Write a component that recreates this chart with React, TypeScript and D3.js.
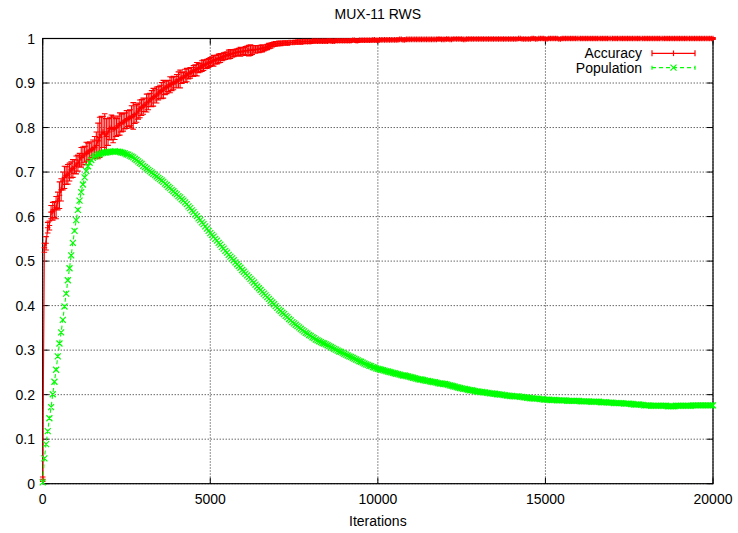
import React from "react";
import * as d3 from "d3";

const W = 738;
const H = 533;

const title = "MUX-11 RWS";
const xLabel = "Iterations";
const seriesNames = ["Accuracy", "Population"];

// one sample every 50 iterations
const iterations: number[] = d3.range(0, 20001, 50);

const accuracy: number[] = [
  0.01, 0.53, 0.54, 0.575, 0.58, 0.61, 0.612, 0.616, 0.62, 0.635,
  0.648, 0.66, 0.68, 0.688, 0.692, 0.695, 0.70, 0.705, 0.708, 0.712,
  0.716, 0.72, 0.727, 0.733, 0.736, 0.74, 0.742, 0.745, 0.748, 0.75,
  0.752, 0.755, 0.760, 0.770, 0.778, 0.785, 0.790, 0.786, 0.780, 0.790,
  0.798, 0.800, 0.796, 0.798, 0.800, 0.804, 0.808, 0.810, 0.812, 0.815,
  0.818, 0.820, 0.822, 0.824, 0.826, 0.829, 0.832, 0.837, 0.842, 0.845,
  0.848, 0.851, 0.855, 0.858, 0.862, 0.865, 0.868, 0.870, 0.873, 0.877,
  0.880, 0.883, 0.886, 0.889, 0.891, 0.893, 0.896, 0.898, 0.900, 0.902,
  0.904, 0.907, 0.909, 0.911, 0.913, 0.916, 0.918, 0.921, 0.923, 0.925,
  0.927, 0.929, 0.931, 0.933, 0.935, 0.938, 0.940, 0.942, 0.943, 0.945,
  0.947, 0.949, 0.950, 0.952, 0.953, 0.955, 0.956, 0.958, 0.960, 0.961,
  0.962, 0.964, 0.965, 0.966, 0.967, 0.968, 0.969, 0.970, 0.970, 0.971,
  0.972, 0.972, 0.973, 0.973, 0.974, 0.974, 0.975, 0.975, 0.976, 0.976,
  0.977, 0.978, 0.979, 0.980, 0.981, 0.983, 0.984, 0.986, 0.987, 0.988,
  0.988, 0.989, 0.989, 0.990, 0.990, 0.990, 0.990, 0.991, 0.991, 0.991,
  0.991, 0.992, 0.992, 0.992, 0.992, 0.993, 0.993, 0.993, 0.993, 0.993,
  0.993, 0.994, 0.994, 0.994, 0.994, 0.994, 0.994, 0.994, 0.994, 0.994,
  0.994, 0.995, 0.995, 0.994, 0.994, 0.995, 0.995, 0.995, 0.995, 0.995,
  0.995, 0.995, 0.995, 0.995, 0.995, 0.996, 0.996, 0.995, 0.995, 0.996,
  0.996, 0.996, 0.996, 0.996, 0.996, 0.996, 0.996, 0.997, 0.997, 0.996,
  0.996, 0.997, 0.997, 0.997, 0.997, 0.997, 0.997, 0.997, 0.997, 0.997,
  0.997, 0.997, 0.997, 0.998, 0.998, 0.997, 0.997, 0.998, 0.998, 0.998,
  0.998, 0.998, 0.998, 0.998, 0.998, 0.998, 0.998, 0.998, 0.998, 0.998,
  0.998, 0.998, 0.998, 0.998, 0.998, 0.998, 0.999, 0.999, 0.998, 0.998,
  0.998, 0.999, 0.999, 0.998, 0.998, 0.999, 0.999, 0.999, 0.999, 0.999,
  0.999, 0.998, 0.998, 0.999, 0.999, 0.999, 0.999, 0.999, 0.999, 0.999,
  0.999, 0.999, 0.999, 0.999, 0.999, 0.999, 0.999, 0.999, 0.999, 0.999,
  0.999, 0.999, 0.999, 0.999, 0.999, 0.999, 0.999, 0.999, 0.999, 0.999,
  0.999, 0.999, 0.999, 0.999, 1.0, 1.0, 0.999, 0.999, 0.999, 0.999,
  0.999, 0.999, 1.0, 1.0, 0.999, 0.999, 1.0, 1.0, 1.0, 1.0,
  0.999, 0.999, 1.0, 1.0, 1.0, 1.0, 1.0, 1.0, 0.999, 0.999,
  1.0, 1.0, 1.0, 1.0, 1.0, 1.0, 1.0, 1.0, 1.0, 1.0,
  1.0, 1.0, 1.0, 1.0, 1.0, 1.0, 1.0, 1.0, 1.0, 1.0,
  1.0, 1.0, 1.0, 1.0, 1.0, 1.0, 1.0, 1.0, 1.0, 1.0,
  1.0, 1.0, 1.0, 1.0, 1.0, 1.0, 1.0, 1.0, 1.0, 1.0,
  1.0, 1.0, 1.0, 1.0, 1.0, 1.0, 1.0, 1.0, 1.0, 1.0,
  1.0, 1.0, 1.0, 1.0, 1.0, 1.0, 1.0, 1.0, 1.0, 1.0,
  1.0, 1.0, 1.0, 1.0, 1.0, 1.0, 1.0, 1.0, 1.0, 1.0,
  1.0, 1.0, 1.0, 1.0, 1.0, 1.0, 1.0, 1.0, 1.0, 1.0,
  1.0, 1.0, 1.0, 1.0, 1.0, 1.0, 1.0, 1.0, 1.0, 1.0,
  1.0,
];

const accuracyErr: number[] = [
  0.005, 0.01, 0.015, 0.012, 0.01, 0.015, 0.02, 0.018, 0.025, 0.02,
  0.03, 0.025, 0.02, 0.025, 0.02, 0.022, 0.02, 0.018, 0.02, 0.015,
  0.02, 0.018, 0.015, 0.022, 0.02, 0.018, 0.025, 0.02, 0.02, 0.018,
  0.020, 0.025, 0.030, 0.040, 0.045, 0.040, 0.035, 0.045, 0.040, 0.030,
  0.025, 0.028, 0.030, 0.025, 0.020, 0.022, 0.025, 0.020, 0.020, 0.018,
  0.020, 0.018, 0.018, 0.025, 0.030, 0.020, 0.020, 0.018, 0.020, 0.018,
  0.018, 0.015, 0.020, 0.018, 0.015, 0.018, 0.020, 0.015, 0.018, 0.015,
  0.015, 0.018, 0.020, 0.015, 0.015, 0.012, 0.018, 0.015, 0.015, 0.013,
  0.015, 0.018, 0.020, 0.012, 0.012, 0.015, 0.015, 0.012, 0.012, 0.010,
  0.012, 0.012, 0.015, 0.010, 0.010, 0.012, 0.012, 0.010, 0.010, 0.010,
  0.010, 0.010, 0.012, 0.010, 0.010, 0.010, 0.010, 0.008, 0.008, 0.008,
  0.008, 0.010, 0.010, 0.008, 0.008, 0.008, 0.008, 0.008, 0.010, 0.008,
  0.008, 0.010, 0.010, 0.012, 0.012, 0.010, 0.008, 0.008, 0.008, 0.008,
  0.008, 0.008, 0.007, 0.006, 0.006, 0.006, 0.006, 0.005, 0.005, 0.005,
  0.005, 0.005, 0.005, 0.004, 0.004, 0.005, 0.005, 0.004, 0.004, 0.004,
  0.004, 0.004, 0.004, 0.005, 0.005, 0.004, 0.004, 0.004, 0.004, 0.004,
  0.004, 0.003, 0.004, 0.003, 0.004, 0.004, 0.003, 0.004, 0.003, 0.004,
  0.003, 0.004, 0.003, 0.004, 0.003, 0.003, 0.004, 0.003, 0.004, 0.003,
  0.004, 0.003, 0.003, 0.004, 0.003, 0.004, 0.003, 0.003, 0.004, 0.003,
  0.003, 0.004, 0.003, 0.003, 0.004, 0.003, 0.004, 0.003, 0.003, 0.004,
  0.003, 0.002, 0.003, 0.003, 0.002, 0.003, 0.003, 0.002, 0.003, 0.003,
  0.003, 0.003, 0.002, 0.003, 0.003, 0.002, 0.003, 0.003, 0.002, 0.003,
  0.002, 0.003, 0.003, 0.002, 0.003, 0.003, 0.002, 0.003, 0.003, 0.002,
  0.003, 0.002, 0.003, 0.003, 0.002, 0.003, 0.002, 0.003, 0.003, 0.002,
  0.003, 0.003, 0.002, 0.003, 0.002, 0.002, 0.003, 0.003, 0.002, 0.003,
  0.002, 0.003, 0.003, 0.002, 0.003, 0.003, 0.002, 0.003, 0.002, 0.003,
  0.003, 0.002, 0.003, 0.002, 0.003, 0.002, 0.003, 0.002, 0.003, 0.003,
  0.002, 0.003, 0.002, 0.003, 0.003, 0.003, 0.002, 0.003, 0.002, 0.002,
  0.003, 0.002, 0.002, 0.003, 0.002, 0.002, 0.003, 0.002, 0.003, 0.002,
  0.002, 0.003, 0.002, 0.003, 0.002, 0.003, 0.002, 0.002, 0.003, 0.002,
  0.003, 0.002, 0.002, 0.003, 0.002, 0.002, 0.003, 0.002, 0.002, 0.003,
  0.002, 0.003, 0.002, 0.002, 0.003, 0.002, 0.002, 0.003, 0.002, 0.002,
  0.002, 0.002, 0.003, 0.002, 0.002, 0.003, 0.002, 0.002, 0.003, 0.002,
  0.003, 0.002, 0.002, 0.002, 0.003, 0.002, 0.003, 0.002, 0.002, 0.002,
  0.002, 0.002, 0.003, 0.002, 0.002, 0.002, 0.003, 0.002, 0.002, 0.003,
  0.002, 0.003, 0.002, 0.002, 0.002, 0.003, 0.002, 0.002, 0.002, 0.002,
  0.003, 0.002, 0.002, 0.003, 0.002, 0.002, 0.002, 0.003, 0.002, 0.002,
  0.002, 0.002, 0.003, 0.002, 0.002, 0.003, 0.002, 0.002, 0.002, 0.003,
  0.003, 0.002, 0.002, 0.003, 0.002, 0.002, 0.002, 0.003, 0.002, 0.002,
  0.002, 0.003, 0.002, 0.002, 0.003, 0.002, 0.002, 0.002, 0.003, 0.002,
  0.002,
];

const population: number[] = [
  0.003, 0.057, 0.089, 0.118, 0.147, 0.172, 0.201, 0.229, 0.256, 0.286,
  0.315, 0.340, 0.368, 0.398, 0.427, 0.457, 0.484, 0.513, 0.541, 0.568,
  0.592, 0.615, 0.636, 0.655, 0.672, 0.688, 0.702, 0.713, 0.721, 0.727,
  0.732, 0.735, 0.737, 0.739, 0.740, 0.742, 0.743, 0.744, 0.744, 0.745,
  0.745, 0.746, 0.746, 0.747, 0.746, 0.746, 0.745, 0.744, 0.743, 0.742,
  0.740, 0.739, 0.737, 0.735, 0.733, 0.730, 0.727, 0.724, 0.721, 0.718,
  0.714, 0.711, 0.708, 0.705, 0.702, 0.699, 0.696, 0.693, 0.690, 0.687,
  0.684, 0.681, 0.678, 0.674, 0.671, 0.667, 0.664, 0.660, 0.657, 0.653,
  0.650, 0.646, 0.643, 0.639, 0.636, 0.632, 0.628, 0.623, 0.619, 0.614,
  0.610, 0.605, 0.601, 0.596, 0.592, 0.587, 0.583, 0.578, 0.573, 0.568,
  0.563, 0.559, 0.555, 0.550, 0.546, 0.541, 0.537, 0.532, 0.528, 0.523,
  0.519, 0.514, 0.510, 0.506, 0.502, 0.497, 0.493, 0.489, 0.485, 0.480,
  0.476, 0.472, 0.468, 0.464, 0.460, 0.456, 0.452, 0.447, 0.443, 0.439,
  0.435, 0.431, 0.427, 0.423, 0.419, 0.415, 0.411, 0.407, 0.403, 0.399,
  0.395, 0.391, 0.388, 0.384, 0.381, 0.377, 0.374, 0.370, 0.367, 0.363,
  0.360, 0.357, 0.354, 0.351, 0.348, 0.345, 0.342, 0.339, 0.337, 0.334,
  0.332, 0.329, 0.327, 0.324, 0.322, 0.320, 0.318, 0.316, 0.315, 0.313,
  0.311, 0.309, 0.307, 0.305, 0.303, 0.301, 0.299, 0.297, 0.296, 0.294,
  0.292, 0.290, 0.288, 0.286, 0.285, 0.283, 0.281, 0.279, 0.277, 0.275,
  0.274, 0.272, 0.270, 0.268, 0.267, 0.265, 0.264, 0.262, 0.261, 0.259,
  0.258, 0.257, 0.256, 0.255, 0.254, 0.253, 0.252, 0.251, 0.250, 0.249,
  0.248, 0.247, 0.246, 0.245, 0.244, 0.243, 0.243, 0.242, 0.241, 0.240,
  0.239, 0.238, 0.237, 0.236, 0.235, 0.234, 0.234, 0.233, 0.232, 0.231,
  0.231, 0.230, 0.229, 0.228, 0.228, 0.227, 0.226, 0.225, 0.225, 0.224,
  0.224, 0.223, 0.222, 0.221, 0.220, 0.219, 0.218, 0.217, 0.216, 0.215,
  0.214, 0.213, 0.213, 0.212, 0.211, 0.210, 0.210, 0.209, 0.208, 0.207,
  0.207, 0.206, 0.206, 0.205, 0.205, 0.204, 0.204, 0.203, 0.203, 0.202,
  0.202, 0.201, 0.201, 0.200, 0.200, 0.199, 0.199, 0.198, 0.198, 0.197,
  0.197, 0.196, 0.196, 0.196, 0.196, 0.195, 0.195, 0.194, 0.194, 0.193,
  0.193, 0.192, 0.192, 0.191, 0.191, 0.191, 0.191, 0.190, 0.190, 0.189,
  0.189, 0.189, 0.189, 0.188, 0.188, 0.188, 0.188, 0.187, 0.187, 0.187,
  0.187, 0.187, 0.187, 0.186, 0.186, 0.186, 0.186, 0.186, 0.186, 0.186,
  0.186, 0.185, 0.185, 0.185, 0.185, 0.185, 0.185, 0.184, 0.184, 0.184,
  0.184, 0.184, 0.184, 0.183, 0.183, 0.183, 0.183, 0.182, 0.182, 0.182,
  0.182, 0.181, 0.181, 0.181, 0.181, 0.181, 0.181, 0.180, 0.180, 0.180,
  0.180, 0.179, 0.179, 0.178, 0.178, 0.178, 0.178, 0.177, 0.177, 0.176,
  0.176, 0.176, 0.176, 0.175, 0.175, 0.175, 0.175, 0.175, 0.175, 0.175,
  0.175, 0.175, 0.175, 0.174, 0.174, 0.174, 0.174, 0.174, 0.175, 0.175,
  0.175, 0.175, 0.175, 0.175, 0.175, 0.175, 0.175, 0.175, 0.176, 0.176,
  0.176, 0.176, 0.176, 0.176, 0.176, 0.176, 0.176, 0.176, 0.176, 0.176,
  0.176,
];

const xTicks = [0, 5000, 10000, 15000, 20000];
const xTickLabels = ["0", "5000", "10000", "15000", "20000"];
const yTicks = [0, 0.1, 0.2, 0.3, 0.4, 0.5, 0.6, 0.7, 0.8, 0.9, 1];
const yTickLabels = ["0", "0.1", "0.2", "0.3", "0.4", "0.5", "0.6", "0.7", "0.8", "0.9", "1"];

const RED = "#ff0000";
const GREEN = "#00ff00";
const FONT = "'Liberation Sans', Arial, sans-serif";

export default function App() {
  const left = 42.7, right = 713, top = 38.5, bottom = 483.7;
  const x = d3.scaleLinear().domain([0, 20000]).range([left, right]);
  const y = d3.scaleLinear().domain([0, 1]).range([bottom, top]);

  const n = Math.min(iterations.length, accuracy.length, accuracyErr.length, population.length);
  const idx = d3.range(n);

  const accLine = d3.line<number>().x(i => x(iterations[i])).y(i => y(accuracy[i]))(idx) || "";
  const popLine = d3.line<number>().x(i => x(iterations[i])).y(i => y(population[i]))(idx) || "";

  const cap = 2.8;
  const plus = 2.8;
  const cross = 3.0;

  let errPath = "";
  let plusPath = "";
  let crossPath = "";
  idx.forEach(i => {
    const px = x(iterations[i]);
    const yl = y(accuracy[i] - accuracyErr[i]);
    const yh = y(accuracy[i] + accuracyErr[i]);
    const py = y(accuracy[i]);
    errPath += `M${px},${yl}V${yh}M${px - cap},${yl}H${px + cap}M${px - cap},${yh}H${px + cap}`;
    plusPath += `M${px - plus},${py}H${px + plus}M${px},${py - plus}V${py + plus}`;
    const gy = y(population[i]);
    crossPath += `M${px - cross},${gy - cross}L${px + cross},${gy + cross}M${px - cross},${gy + cross}L${px + cross},${gy - cross}`;
  });

  const tick = 6;
  const legX1 = 652, legX2 = 695, legMid = 673.5;
  const legY1 = 53.3, legY2 = 67.7;

  return (
    <svg width={W} height={H} viewBox={`0 0 ${W} ${H}`}
      style={{ position: "absolute", left: 0, top: 0, background: "#fff" }}
      fontFamily={FONT}>
      <rect x={0} y={0} width={W} height={H} fill="#fff" />
      {/* grid */}
      <g stroke="#222" strokeWidth={1} strokeDasharray="1,2" fill="none">
        {yTicks.map((t, i) => (
          <line key={"gy" + i} x1={left} x2={right} y1={y(t)} y2={y(t)} />
        ))}
        {xTicks.map((t, i) => (
          <line key={"gx" + i} x1={x(t)} x2={x(t)} y1={top} y2={bottom} />
        ))}
      </g>
      {/* ticks */}
      <g stroke="#000" strokeWidth={1}>
        {yTicks.map((t, i) => (
          <g key={"ty" + i}>
            <line x1={left} x2={left + tick} y1={y(t)} y2={y(t)} />
            <line x1={right - tick} x2={right} y1={y(t)} y2={y(t)} />
          </g>
        ))}
        {xTicks.map((t, i) => (
          <g key={"tx" + i}>
            <line x1={x(t)} x2={x(t)} y1={bottom} y2={bottom - tick} />
            <line x1={x(t)} x2={x(t)} y1={top} y2={top + tick} />
          </g>
        ))}
      </g>
      <rect x={left} y={top} width={right - left} height={bottom - top} fill="none" stroke="#000" strokeWidth={1.2} />
      {/* tick labels */}
      <g fontSize={14} fill="#000">
        {yTicks.map((t, i) => (
          <text key={"ly" + i} x={35} y={y(t)} dy="0.36em" textAnchor="end">{yTickLabels[i]}</text>
        ))}
        {xTicks.map((t, i) => (
          <text key={"lx" + i} x={x(t)} y={504} textAnchor="middle">{xTickLabels[i]}</text>
        ))}
      </g>
      <text x={(left + right) / 2} y={19} fontSize={14} textAnchor="middle" fill="#000">{title}</text>
      <text x={(left + right) / 2} y={526} fontSize={14} textAnchor="middle" fill="#000">{xLabel}</text>

      {/* accuracy */}
      <path d={accLine} fill="none" stroke={RED} strokeWidth={1.1} />
      <path d={errPath} fill="none" stroke={RED} strokeWidth={1.1} />
      <path d={plusPath} fill="none" stroke={RED} strokeWidth={1.1} />

      {/* population */}
      <path d={popLine} fill="none" stroke={GREEN} strokeWidth={1.1} strokeDasharray="4,3" />
      <path d={crossPath} fill="none" stroke={GREEN} strokeWidth={1.2} />

      {/* legend */}
      <g fontSize={14} fill="#000">
        <text x={642} y={legY1} dy="0.36em" textAnchor="end">{seriesNames[0]}</text>
        <text x={642} y={legY2} dy="0.36em" textAnchor="end">{seriesNames[1]}</text>
      </g>
      <g stroke={RED} strokeWidth={1.2} fill="none">
        <line x1={legX1} x2={legX2} y1={legY1} y2={legY1} />
        <line x1={legX1} x2={legX1} y1={legY1 - 3} y2={legY1 + 3} />
        <line x1={legX2} x2={legX2} y1={legY1 - 3} y2={legY1 + 3} />
        <line x1={legMid} x2={legMid} y1={legY1 - plus} y2={legY1 + plus} />
      </g>
      <g stroke={GREEN} strokeWidth={1.2} fill="none">
        <line x1={legX1} x2={legX2} y1={legY2} y2={legY2} strokeDasharray="4,3" />
        <line x1={legX1} x2={legX1} y1={legY2 - 2} y2={legY2 + 2} />
        <line x1={legX2} x2={legX2} y1={legY2 - 2} y2={legY2 + 2} />
        <path d={`M${legMid - cross},${legY2 - cross}L${legMid + cross},${legY2 + cross}M${legMid - cross},${legY2 + cross}L${legMid + cross},${legY2 - cross}`} />
      </g>
    </svg>
  );
}
